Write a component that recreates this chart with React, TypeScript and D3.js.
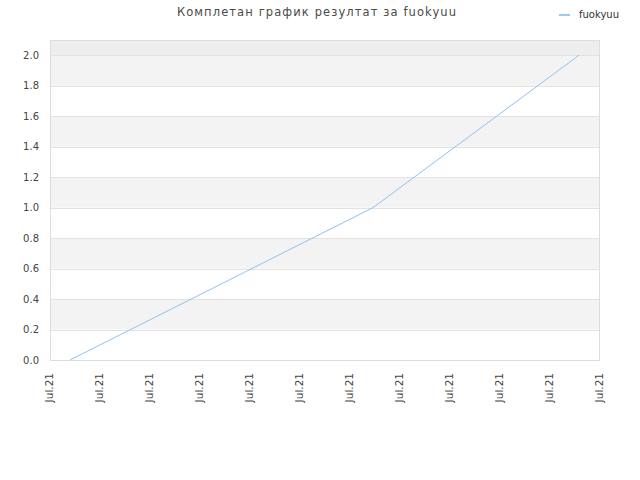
import React from "react";
import * as d3 from "d3";

const title = "Комплетан график резултат за fuokyuu";
const seriesName = "fuokyuu";
const xPositions = [0.4, 6.46, 10.58];
const yValues = [0, 1.0, 2.0];
const xTickValues = [0, 1, 2, 3, 4, 5, 6, 7, 8, 9, 10, 11];
const xTickLabels = ["Jul.21", "Jul.21", "Jul.21", "Jul.21", "Jul.21", "Jul.21", "Jul.21", "Jul.21", "Jul.21", "Jul.21", "Jul.21", "Jul.21"];
const yTicks = [0, 0.2, 0.4, 0.6, 0.8, 1.0, 1.2, 1.4, 1.6, 1.8, 2.0];

const W = 640, H = 480;
const L = 50, R = 600, T = 40, B = 360;
const FONT = "'DejaVu Sans', sans-serif";

export default function App() {
  const x = d3.scaleLinear().domain([0, 11]).range([L, R]);
  const y = d3.scaleLinear().domain([0, 2.1]).range([B, T]);
  const pts = xPositions.map((v, i) => [v, yValues[i]] as [number, number]);
  const line = d3.line<[number, number]>().x(d => x(d[0])).y(d => y(d[1]));
  const bands = [];
  for (let i = 0; i < yTicks.length - 1; i++) {
    if (i % 2 === 1) bands.push([yTicks[i], yTicks[i + 1]]);
  }
  return (
    <svg width={W} height={H} style={{ position: "absolute", left: 0, top: 0, background: "#fff" }}>
      <rect x={L} y={y(2.1)} width={R - L} height={y(2.0) - y(2.1)} fill="#eeeeee" />
      {bands.map((b, i) => (
        <rect key={i} x={L} y={y(b[1])} width={R - L} height={y(b[0]) - y(b[1])} fill="#f3f3f3" />
      ))}
      {yTicks.map((t, i) => (
        <line key={i} x1={L} x2={R} y1={Math.round(y(t)) + 0.5} y2={Math.round(y(t)) + 0.5} stroke="#e2e2e2" />
      ))}
      <rect x={L + 0.5} y={T + 0.5} width={R - L - 1} height={B - T} fill="none" stroke="#dddddd" />
      <path d={line(pts) || ""} fill="none" stroke="#92c1f0" strokeWidth={1} />
      {yTicks.map((t, i) => (
        <text key={i} x={39} y={y(t)} dy="0.35em" textAnchor="end" fontFamily={FONT} fontSize={10} fill="#444">
          {t.toFixed(1)}
        </text>
      ))}
      {xTickValues.map((t, i) => (
        <text key={i} transform={`translate(${x(t) + 2.5},${373}) rotate(-90)`} textAnchor="end" fontFamily={FONT} fontSize={10.5} fill="#444">
          {xTickLabels[i]}
        </text>
      ))}
      <text x={317} y={16} textAnchor="middle" fontFamily={FONT} fontSize={11.5} letterSpacing={1.1} fill="#4a4a4a">
        {title}
      </text>
      <line x1={559} x2={570} y1={15} y2={15} stroke="#9fc8f2" strokeWidth={2} />
      <text x={579} y={18} fontFamily={FONT} fontSize={10} fill="#333">
        {seriesName}
      </text>
    </svg>
  );
}
